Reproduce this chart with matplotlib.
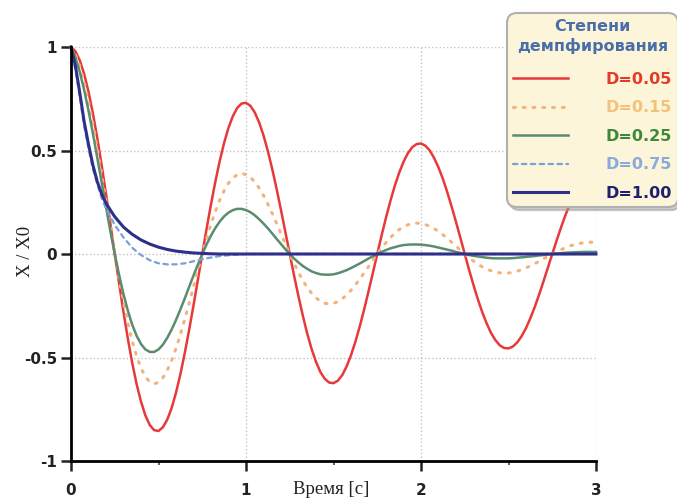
import matplotlib
matplotlib.use('Agg')
import matplotlib.pyplot as plt
from matplotlib.ticker import MultipleLocator

# --- datos (t en segundos, X/X0) ---
# paso fino para las curvas que oscilan
t_fine = [0.000, 0.025, 0.050, 0.075, 0.100, 0.125, 0.150, 0.175, 0.200, 0.225,
          0.250, 0.275, 0.300, 0.325, 0.350, 0.375, 0.400, 0.425, 0.450, 0.475,
          0.500, 0.525, 0.550, 0.575, 0.600, 0.625, 0.650, 0.675, 0.700, 0.725,
          0.750, 0.775, 0.800, 0.825, 0.850, 0.875, 0.900, 0.925, 0.950, 0.975,
          1.000, 1.025, 1.050, 1.075, 1.100, 1.125, 1.150, 1.175, 1.200, 1.225,
          1.250, 1.275, 1.300, 1.325, 1.350, 1.375, 1.400, 1.425, 1.450, 1.475,
          1.500, 1.525, 1.550, 1.575, 1.600, 1.625, 1.650, 1.675, 1.700, 1.725,
          1.750, 1.775, 1.800, 1.825, 1.850, 1.875, 1.900, 1.925, 1.950, 1.975,
          2.000, 2.025, 2.050, 2.075, 2.100, 2.125, 2.150, 2.175, 2.200, 2.225,
          2.250, 2.275, 2.300, 2.325, 2.350, 2.375, 2.400, 2.425, 2.450, 2.475,
          2.500, 2.525, 2.550, 2.575, 2.600, 2.625, 2.650, 2.675, 2.700, 2.725,
          2.750, 2.775, 2.800, 2.825, 2.850, 2.875, 2.900, 2.925, 2.950, 2.975,
          3.000]

x_d005 = [1.000, 0.980, 0.936, 0.870, 0.784, 0.680, 0.561, 0.430, 0.290, 0.146,
          0.000, -0.143, -0.281, -0.410, -0.527, -0.629, -0.713, -0.780, -0.826, -0.851,
          -0.855, -0.837, -0.800, -0.744, -0.670, -0.581, -0.479, -0.367, -0.248, -0.125,
          0.000, 0.123, 0.240, 0.350, 0.450, 0.537, 0.610, 0.666, 0.706, 0.727,
          0.730, 0.716, 0.684, 0.636, 0.573, 0.497, 0.410, 0.314, 0.212, 0.106,
          0.000, -0.105, -0.205, -0.299, -0.385, -0.459, -0.521, -0.570, -0.603, -0.621,
          -0.624, -0.612, -0.585, -0.543, -0.489, -0.424, -0.350, -0.268, -0.181, -0.091,
          0.000, 0.090, 0.176, 0.256, 0.329, 0.392, 0.445, 0.487, 0.516, 0.531,
          0.534, 0.523, 0.500, 0.464, 0.418, 0.363, 0.299, 0.229, 0.155, 0.078,
          0.000, -0.077, -0.150, -0.219, -0.281, -0.335, -0.381, -0.416, -0.441, -0.454,
          -0.456, -0.447, -0.427, -0.397, -0.358, -0.310, -0.256, -0.196, -0.132, -0.066,
          0.000, 0.065, 0.128, 0.187, 0.240, 0.287, 0.325, 0.356, 0.377, 0.388,
          0.390]

x_d015 = [1.000, 0.964, 0.907, 0.829, 0.735, 0.627, 0.509, 0.384, 0.255, 0.126,
          0.000, -0.120, -0.232, -0.333, -0.421, -0.494, -0.552, -0.593, -0.618, -0.627,
          -0.620, -0.598, -0.562, -0.514, -0.456, -0.389, -0.316, -0.238, -0.158, -0.078,
          0.000, 0.075, 0.144, 0.206, 0.261, 0.306, 0.342, 0.368, 0.383, 0.389,
          0.384, 0.371, 0.348, 0.319, 0.283, 0.241, 0.196, 0.148, 0.098, 0.048,
          0.000, -0.046, -0.089, -0.128, -0.162, -0.190, -0.212, -0.228, -0.238, -0.241,
          -0.238, -0.230, -0.216, -0.198, -0.175, -0.149, -0.121, -0.091, -0.061, -0.030,
          0.000, 0.029, 0.055, 0.079, 0.100, 0.118, 0.131, 0.141, 0.147, 0.149,
          0.148, 0.142, 0.134, 0.123, 0.109, 0.093, 0.075, 0.057, 0.038, 0.019,
          0.000, -0.018, -0.034, -0.049, -0.062, -0.073, -0.081, -0.088, -0.091, -0.093,
          -0.092, -0.088, -0.083, -0.076, -0.067, -0.057, -0.047, -0.035, -0.023, -0.012,
          0.000, 0.011, 0.021, 0.030, 0.039, 0.045, 0.050, 0.054, 0.057, 0.057,
          0.057]

x_d025 = [1.000, 0.950, 0.880, 0.793, 0.693, 0.583, 0.466, 0.346, 0.227, 0.110,
          0.000, -0.102, -0.194, -0.274, -0.342, -0.395, -0.435, -0.461, -0.473, -0.473,
          -0.461, -0.438, -0.405, -0.365, -0.319, -0.268, -0.215, -0.159, -0.104, -0.051,
          0.000, 0.047, 0.089, 0.126, 0.157, 0.182, 0.200, 0.212, 0.218, 0.218,
          0.212, 0.202, 0.187, 0.168, 0.147, 0.124, 0.099, 0.073, 0.048, 0.023,
          0.000, -0.022, -0.041, -0.058, -0.072, -0.084, -0.092, -0.098, -0.100, -0.100,
          -0.098, -0.093, -0.086, -0.078, -0.068, -0.057, -0.046, -0.034, -0.022, -0.011,
          0.000, 0.010, 0.019, 0.027, 0.033, 0.039, 0.043, 0.045, 0.046, 0.046,
          0.045, 0.043, 0.040, 0.036, 0.031, 0.026, 0.021, 0.016, 0.010, 0.005,
          0.000, -0.005, -0.009, -0.012, -0.015, -0.018, -0.020, -0.021, -0.021, -0.021,
          -0.021, -0.020, -0.018, -0.016, -0.014, -0.012, -0.010, -0.007, -0.005, -0.002,
          0.000, 0.002, 0.004, 0.006, 0.007, 0.008, 0.009, 0.010, 0.010, 0.010,
          0.010]

# curvas que se apagan rapido (despues de t=1 quedan en cero)
t_fast = [0.000, 0.025, 0.050, 0.075, 0.100, 0.125, 0.150, 0.175, 0.200,
          0.25, 0.30, 0.35, 0.40, 0.45, 0.50, 0.55, 0.60, 0.65, 0.70, 0.75,
          0.80, 0.85, 0.90, 0.95, 1.00,
          3.00]

x_d075 = [1.00, 0.89, 0.76, 0.62, 0.51, 0.41, 0.34, 0.27, 0.22,
          0.14, 0.08, 0.03, -0.005, -0.03, -0.045, -0.05, -0.05, -0.045, -0.035, -0.025,
          -0.017, -0.01, -0.006, -0.003, 0.0,
          0.0]

x_d100 = [1.00, 0.91, 0.78, 0.64, 0.53, 0.43, 0.35, 0.29, 0.245,
          0.18, 0.13, 0.095, 0.068, 0.048, 0.033, 0.022, 0.014, 0.009, 0.005, 0.003,
          0.001, 0.0, 0.0, 0.0, 0.0,
          0.0]

labels = ['D=0.05', 'D=0.15', 'D=0.25', 'D=0.75', 'D=1.00']
line_colors = ['#e8393a', '#f4b27c', '#5a8c70', '#7b9fd8', '#2d2f8a']
text_colors = ['#e43a2a', '#f3c27a', '#3a8a3a', '#88aadd', '#1e2070']

# --- figura ---
fig = plt.figure(figsize=(6.77, 5.0), dpi=100)
ax = fig.add_axes([71 / 677, 39 / 500, 525 / 677, 414 / 500])

series = [(t_fine, x_d005), (t_fine, x_d015), (t_fine, x_d025),
          (t_fast, x_d075), (t_fast, x_d100)]
styles = ['-', (0, (0.6, 2.6)), '-', (0, (2.0, 2.0)), '-']
widths = [1.8, 2.2, 1.8, 1.6, 2.2]
for (tt, y), lab, c, ls, lw in zip(series, labels, line_colors, styles, widths):
    ax.plot(tt, y, color=c, linestyle=ls, linewidth=lw, label=lab,
            solid_joinstyle='round', dash_capstyle='round', clip_on=False)

ax.set_xlim(0, 3)
ax.set_ylim(-1, 1)
ax.xaxis.set_major_locator(MultipleLocator(1))
ax.xaxis.set_minor_locator(MultipleLocator(0.5))
ax.set_yticks([-1, -0.5, 0, 0.5, 1])
ax.set_yticklabels(['-1', '-0.5', '0', '0.5', '1'])

for s in ['top', 'right']:
    ax.spines[s].set_visible(False)
for s in ['left', 'bottom']:
    ax.spines[s].set_linewidth(2)

ax.tick_params(axis='both', which='major', direction='out', length=7, width=1.8,
               labelsize=11, colors='#222222')
ax.tick_params(axis='x', which='major', pad=9)
ax.tick_params(axis='y', which='major', pad=3)
ax.tick_params(axis='x', which='minor', direction='out', length=3, width=1.2,
               colors='#444444')
for lbl in ax.get_xticklabels() + ax.get_yticklabels():
    lbl.set_fontweight('bold')
    lbl.set_family('DejaVu Sans')

ax.grid(True, which='major', linestyle=':', color='#c4c4c4', linewidth=1)

# etiquetas de ejes (texto serif)
fig.text(331 / 677, 1 - 489 / 500, 'Время [с]', ha='center', va='center',
         family='Liberation Serif', fontsize=13.5, color='#222222')
fig.text(25 / 677, 1 - 251 / 500, 'X / X0', ha='center', va='center',
         rotation=90, family='Liberation Serif', fontsize=13.5, color='#222222')

# leyenda
leg = fig.legend(loc='upper left', bbox_to_anchor=(507 / 677, 1 - 13 / 500),
                 borderaxespad=0, title='Степени\nдемпфирования', fontsize=11.5,
                 handlelength=3.45, handletextpad=2.3, labelspacing=0.85,
                 borderpad=0.4, fancybox=True,
                 shadow={'color': '#9a9a9a', 'alpha': 0.5},
                 facecolor='#fdf5d9', edgecolor='#b0b0b0', framealpha=1)
frame = leg.get_frame()
frame.set_linewidth(1.5)
frame.set_boxstyle('round', pad=0, rounding_size=0.6)
leg.set_zorder(10)
leg._legend_box.sep = 13  # mas aire entre titulo y entradas
title = leg.get_title()
title.set_color('#4a6fa8')
title.set_fontweight('bold')
title.set_fontsize(11.5)
title.set_linespacing(1.25)
title.set_multialignment('center')
title.set_family('DejaVu Sans')
for txt, c in zip(leg.get_texts(), text_colors):
    txt.set_color(c)
    txt.set_fontweight('bold')
    txt.set_family('DejaVu Sans')

fig.savefig('out.png', dpi=100)
